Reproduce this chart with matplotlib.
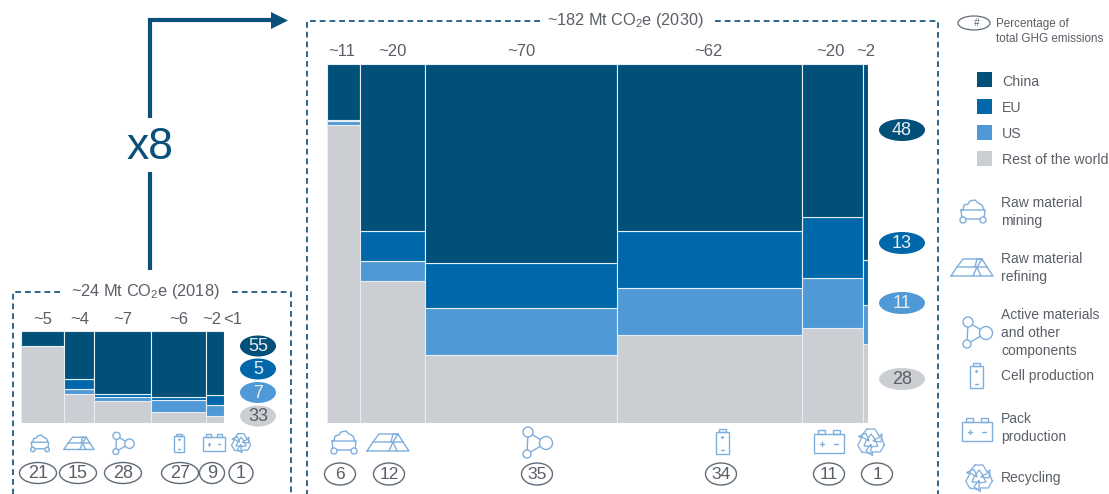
import numpy as np
from matplotlib import pyplot as plt
from matplotlib.patches import Ellipse, Rectangle, Circle, Polygon

plt.rcParams['font.family'] = ['Liberation Sans', 'DejaVu Sans']
plt.rcParams['mathtext.default'] = 'regular'

################
# chart values #
################
regions = ["Rest of the world", "US", "EU", "China"]
region_colors = ["#CBCED2", "#4F9AD6", "#0068AA", "#00507A"]

# 2018, share of each step (column width) and regional split from bottom to top
shares_2018 = [21, 15, 28, 27, 9]
rest_2018 = [84, 31, 24, 12, 8]
us_2018 = [0, 6.5, 4.5, 12.5, 11.5]
eu_2018 = [0, 10, 3.5, 4, 11]
china_2018 = [16, 52.5, 68, 71.5, 69.5]
totals_2018 = ["~5", "~4", "~7", "~6", "~2", "<1"]
rings_2018 = ["21", "15", "28", "27", "9", "1"]
pills_2018 = ["33", "7", "5", "55"]

# 2030
shares_2030 = [6, 12, 35, 34, 11, 1]
rest_2030 = [83, 39.5, 19, 24.5, 26.5, 22]
us_2030 = [1, 5.5, 13, 13, 14, 11]
eu_2030 = [0.5, 8.5, 12.5, 16, 17, 12.5]
china_2030 = [15.5, 46.5, 55.5, 46.5, 42.5, 54.5]
totals_2030 = ["~11", "~20", "~70", "~62", "~20", "~2"]
rings_2030 = ["6", "12", "35", "34", "11", "1"]
pills_2030 = ["28", "11", "13", "48"]

step_names = ["Raw material\nmining", "Raw material\nrefining", "Active materials\nand other\ncomponents",
              "Cell production", "Pack\nproduction", "Recycling"]

W, H = 1109, 494
TXT = "#5A5F66"
NAVY = "#0B5079"
DASH = "#1F5A80"
ICON = "#7FAEDC"

fig = plt.figure(figsize=(W / 100, H / 100), dpi=100)

# overlay in pixel coordinates for frames, icons and text
ov = fig.add_axes([0, 0, 1, 1])
ov.set_xlim(0, W)
ov.set_ylim(H, 0)
ov.axis("off")


def stacked(x0, x1, y0, y1, shares, splits):
    ax = fig.add_axes([x0 / W, (H - y1) / H, (x1 - x0) / W, (y1 - y0) / H])
    lefts = np.cumsum([0] + shares[:-1])
    bottom = np.zeros(len(shares))
    for vals, col in zip(splits, region_colors):
        ax.bar(lefts, vals, width=shares, bottom=bottom, align="edge", color=col,
               edgecolor="#E6EEF5", linewidth=0.8)
        bottom += np.array(vals)
    ax.set_xlim(0, sum(shares))
    ax.set_ylim(0, 100)
    ax.axis("off")
    return ax


stacked(21, 224, 331, 423, shares_2018, [rest_2018, us_2018, eu_2018, china_2018])
stacked(327, 868, 64, 423, shares_2030, [rest_2030, us_2030, eu_2030, china_2030])


#----- icons, drawn around a centre point -----#
def line(x, y, pts, s, lw=1.0):
    pts = np.array(pts, dtype=float)
    ov.plot(x + pts[:, 0] * s, y + pts[:, 1] * s, color=ICON, lw=lw, solid_capstyle="round")


def icon_mining(x, y, s):
    line(x, y, [(-12, -1), (12, -1), (11, 8), (-11, 8), (-12, -1)], s)
    line(x, y, [(-10, -1), (-9, -6), (-5, -7), (-3, -10), (2, -11), (5, -8), (9, -6), (11, -1)], s)
    for dx in (-10, 10):
        ov.add_patch(Circle((x + dx * s, y + 9 * s), 3 * s, fc="white", ec=ICON, lw=1.0, zorder=3))


def icon_refining(x, y, s):
    line(x, y, [(-21, 9), (-15, 0), (5, 0), (1, 9), (-21, 9)], s)
    line(x, y, [(-15, 0), (-9, -8), (10, -8), (5, 0)], s)
    line(x, y, [(1, 9), (21, 9), (15, 0), (5, 0)], s)
    line(x, y, [(10, -8), (15, 0)], s)
    line(x, y, [(5, 0), (9, 9)], s)
    line(x, y, [(10, -8), (5, -8), (3, 0)], s)


def icon_active(x, y, s):
    a, b, c = (-9, -10), (9, 1), (-10, 12)
    line(x, y, [a, b, c, a], s)
    for (dx, dy), r in zip((a, b, c), (5, 6.5, 4)):
        ov.add_patch(Circle((x + dx * s, y + dy * s), r * s, fc="white", ec=ICON, lw=1.0, zorder=3))


def icon_cell(x, y, s):
    ov.add_patch(Rectangle((x - 6.5 * s, y - 10 * s), 13 * s, 22 * s, fc="none", ec=ICON, lw=1.0))
    ov.add_patch(Rectangle((x - 3.5 * s, y - 13 * s), 7 * s, 3 * s, fc="none", ec=ICON, lw=1.0))
    line(x, y, [(-1, -5), (1, -5)], s)
    line(x, y, [(0, -6), (0, -4)], s)
    line(x, y, [(-1.5, 8), (1.5, 8)], s)


def icon_pack(x, y, s):
    ov.add_patch(Rectangle((x - 15 * s, y - 8 * s), 30 * s, 19 * s, fc="none", ec=ICON, lw=1.0))
    for dx in (-11, 4):
        ov.add_patch(Rectangle((x + dx * s, y - 12 * s), 7 * s, 4 * s, fc="none", ec=ICON, lw=1.0))
    line(x, y, [(-9, 2), (-5, 2)], s)
    line(x, y, [(-7, 0), (-7, 4)], s)
    line(x, y, [(5, 2), (9, 2)], s)


def icon_recycle(x, y, s):
    # three bent arrows turned around the centre
    arm = np.array([(-4, -13), (4, -13), (8, -6), (11, -8), (10, 0), (2, -1), (4, -3), (0, -8), (-4, -2), (-10, -6), (-4, -13)])
    for ang in (0, 120, 240):
        t = np.deg2rad(ang)
        rot = np.array([[np.cos(t), -np.sin(t)], [np.sin(t), np.cos(t)]])
        line(x, y, arm @ rot.T, s, lw=0.9)


icons = [icon_mining, icon_refining, icon_active, icon_cell, icon_pack, icon_recycle]


def ring(x, y, w, h, label, fs=13):
    ov.add_patch(Ellipse((x, y), w, h, fc="white", ec="#5F6B76", lw=1.0))
    ov.text(x, y + 0.5, label, ha="center", va="center", fontsize=fs, color=TXT)


def pill(x, y, w, h, label, col, fs):
    tc = TXT if col == region_colors[0] else "#E8EEF3"
    ov.add_patch(Ellipse((x, y), w, h, fc=col, ec="none"))
    ov.text(x, y + 0.5, label, ha="center", va="center", fontsize=fs, color=tc)


def dashed(xs, ys):
    ov.plot(xs, ys, color=DASH, lw=1.3, dashes=(3.2, 2.2), dash_capstyle="butt")


#----- 2018 panel -----#
dashed([60, 12.5, 12.5], [292, 292, 494])
dashed([232, 290.5, 290.5], [292, 292, 494])
ov.text(145, 291, "~24 Mt CO$_2$e (2018)", ha="center", va="center", fontsize=11.8, color=TXT)
for x, t in zip([43, 80, 123, 179, 212, 233], totals_2018):
    ov.text(x, 319, t, ha="center", va="center", fontsize=12, color=TXT)
for y, t, c in zip([416, 392.5, 369, 346], pills_2018, region_colors):
    pill(258, y, 36, 21, t, c, 13)
for x, f in zip([40, 79, 123, 179, 214, 241], icons):
    f(x, 443, 0.72)
for x, t, w in zip([38, 78, 123, 180, 212, 241], rings_2018, [37, 37, 37, 37, 25, 24]):
    ring(x, 473, w, 21, t)

#----- 2030 panel -----#
dashed([540, 307, 307], [21, 21, 494])
dashed([715, 938, 938], [21, 21, 494])
ov.text(625, 21, "~182 Mt CO$_2$e (2030)", ha="center", va="center", fontsize=11.7, color=TXT)
for x, t in zip([342, 392, 521, 708, 830, 866], totals_2030):
    ov.text(x, 52, t, ha="center", va="center", fontsize=12, color=TXT)
for y, t, c in zip([379, 303, 243, 130], pills_2030, region_colors):
    pill(902, y, 46, 22, t, c, 13)
for x, f in zip([344, 388, 537, 722, 829, 871], icons):
    f(x, 442, 1.0)
for x, t in zip([340, 389, 537, 721, 829, 877], rings_2030):
    ring(x, 474, 31, 22, t, fs=12.5)

#----- x8 arrow -----#
ov.plot([150, 150], [270, 172], color=NAVY, lw=3, solid_capstyle="butt")
ov.plot([150, 150, 272], [118, 20, 20], color=NAVY, lw=3, solid_joinstyle="miter", solid_capstyle="butt")
ov.add_patch(Polygon([(271, 12), (288, 20.5), (271, 29)], fc=NAVY, ec="none"))
ov.text(150, 147, "x8", ha="center", va="center", fontsize=32, color=NAVY)

#----- legend -----#
ov.add_patch(Ellipse((974, 23), 32, 14, fc="white", ec="#5F6B76", lw=0.9))
ov.text(976, 23, "#", ha="center", va="center", fontsize=7, style="italic", color=TXT)
ov.text(996, 23.5, "Percentage of", va="center", fontsize=8.4, color=TXT)
ov.text(996, 39, "total GHG emissions", va="center", fontsize=8.4, color=TXT)
for y, t, c in zip([158, 132, 106, 80], regions, region_colors):
    ov.add_patch(Rectangle((977, y - 7.5), 15, 15, fc=c, ec="none"))
    ov.text(1002, y + 1.5, t, va="center", fontsize=10.2, color=TXT)
for (x, y), (ty, t), f in zip([(973, 211), (972, 267), (977, 332), (976, 376), (977, 430), (979, 478)],
                               zip([212, 268, 333, 376, 428, 478], step_names), icons):
    f(x, y, 1.0)
    ov.text(1001, ty, t, va="center", fontsize=10, color=TXT, linespacing=1.4)

fig.savefig("out.png", dpi=100, facecolor="white")
